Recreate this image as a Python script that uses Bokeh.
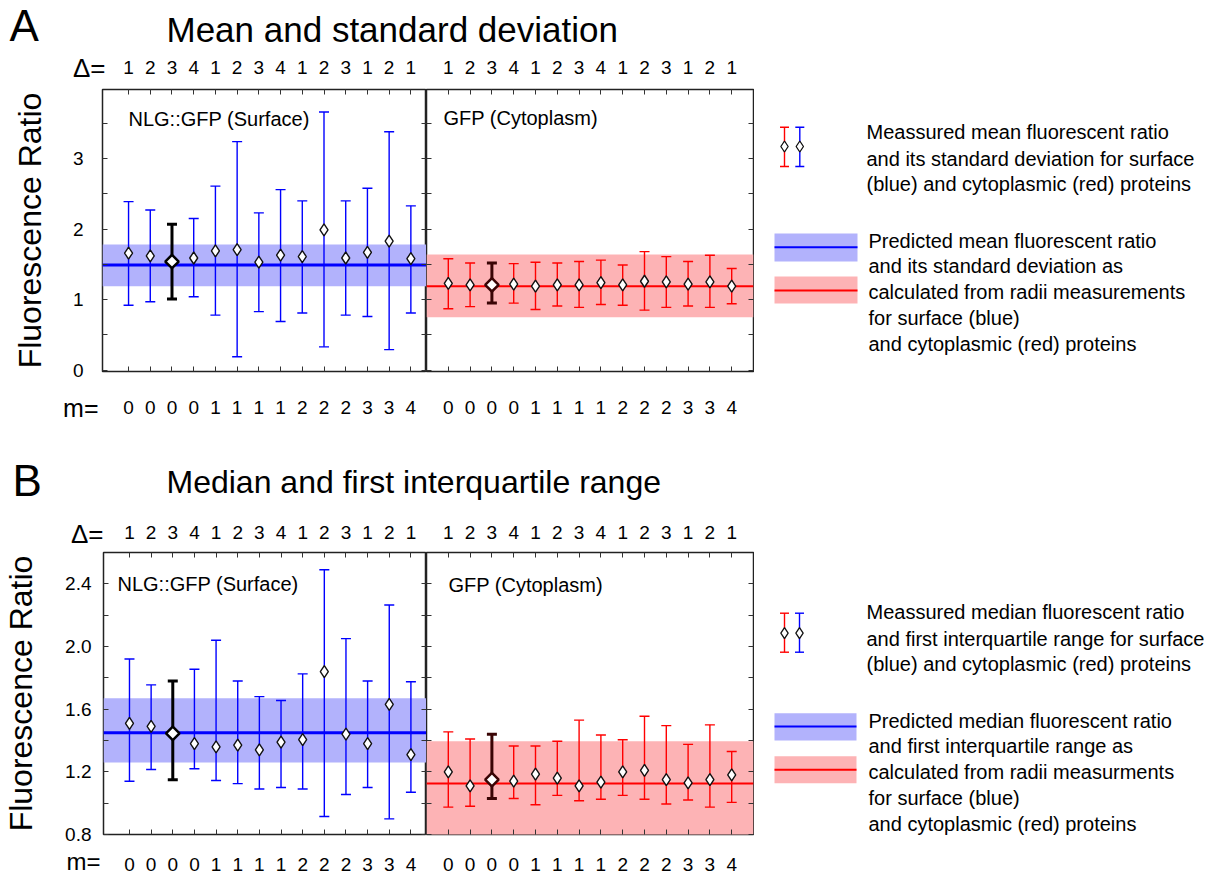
from bokeh.plotting import figure
from bokeh.models import (Range1d, LinearAxis, FixedTicker, PrintfTickFormatter, Whisker, TeeHead,
                          ColumnDataSource, BoxAnnotation, Span, Label, GridBox)
from bokeh.layouts import column, row
from bokeh.embed import file_html
from bokeh.resources import INLINE
from bokeh.core.properties import value
import math

FONT = "Liberation Sans"

# ---------------- data ----------------
positions = [1, 2, 3, 4, 5, 6, 7, 8, 9, 10, 11, 12, 13, 14]
delta_labels = ["1", "2", "3", "4", "1", "2", "3", "4", "1", "2", "3", "1", "2", "1"]
m_labels = ["0", "0", "0", "0", "1", "1", "1", "1", "2", "2", "2", "3", "3", "4"]
highlight_index = 2

# Panel A: mean and standard deviation
a_surface_mean = [1.66, 1.62, 1.54, 1.59, 1.69, 1.71, 1.53, 1.63, 1.61, 1.99, 1.59, 1.67, 1.83, 1.58]
a_surface_upper = [2.39, 2.27, 2.07, 2.15, 2.61, 3.24, 2.23, 2.56, 2.40, 3.66, 2.40, 2.58, 3.38, 2.33]
a_surface_lower = [0.92, 0.97, 1.01, 1.04, 0.78, 0.19, 0.83, 0.69, 0.81, 0.33, 0.78, 0.76, 0.29, 0.81]
a_surface_pred_mean = 1.49
a_surface_pred_low = 1.19
a_surface_pred_high = 1.78

a_cyto_mean = [1.23, 1.21, 1.21, 1.22, 1.19, 1.21, 1.21, 1.24, 1.21, 1.26, 1.25, 1.22, 1.25, 1.19]
a_cyto_upper = [1.58, 1.52, 1.52, 1.51, 1.53, 1.52, 1.54, 1.56, 1.49, 1.68, 1.61, 1.54, 1.63, 1.44]
a_cyto_lower = [0.87, 0.90, 0.95, 0.95, 0.86, 0.91, 0.89, 0.93, 0.92, 0.85, 0.89, 0.91, 0.89, 0.94]
a_cyto_pred_mean = 1.19
a_cyto_pred_low = 0.75
a_cyto_pred_high = 1.64

# Panel B: median and first interquartile range
b_surface_median = [1.51, 1.49, 1.445, 1.38, 1.36, 1.37, 1.34, 1.39, 1.405, 1.84, 1.44, 1.38, 1.63, 1.31]
b_surface_upper = [1.92, 1.755, 1.78, 1.855, 2.04, 1.78, 1.68, 1.655, 1.825, 2.49, 2.05, 1.78, 2.265, 1.775]
b_surface_lower = [1.14, 1.215, 1.15, 1.22, 1.145, 1.125, 1.09, 1.10, 1.09, 0.915, 1.055, 1.10, 0.90, 1.07]
b_surface_pred_mean = 1.45
b_surface_pred_low = 1.26
b_surface_pred_high = 1.67

b_cyto_median = [1.20, 1.11, 1.15, 1.14, 1.185, 1.16, 1.11, 1.135, 1.20, 1.21, 1.15, 1.13, 1.15, 1.18]
b_cyto_upper = [1.455, 1.41, 1.44, 1.365, 1.365, 1.395, 1.53, 1.435, 1.405, 1.555, 1.495, 1.375, 1.50, 1.33]
b_cyto_lower = [0.975, 0.98, 1.03, 1.03, 0.99, 1.05, 1.015, 1.025, 1.05, 1.025, 0.995, 1.02, 0.975, 1.005]
b_cyto_pred_mean = 1.125
b_cyto_pred_low = 0.78
b_cyto_pred_high = 1.395

legend_a_measured = ["Meassured mean fluorescent ratio",
                     "and its standard deviation for surface",
                     "(blue) and cytoplasmic (red) proteins"]
legend_a_predicted = ["Predicted mean fluorescent ratio",
                      "and its standard deviation as",
                      "calculated from radii measurements",
                      "for surface (blue)",
                      "and cytoplasmic (red) proteins"]
legend_b_measured = ["Meassured median fluorescent ratio",
                     "and first interquartile range for surface",
                     "(blue) and cytoplasmic (red) proteins"]
legend_b_predicted = ["Predicted median fluorescent ratio",
                      "and first interquartile range as",
                      "calculated from radii measurments",
                      "for surface (blue)",
                      "and cytoplasmic (red) proteins"]

# ---------------- styles ----------------
BLUE = "#0000ff"
RED = "#ff0000"
BLUE_BAND = "#b2b2fc"
RED_BAND = "#fdb3b5"
BLACK_HL = "#000000"
RED_HL = "#3a0505"

PAGE_W, PAGE_H = 1216, 877
LEFT_W, RIGHT_W = 426, 328
LEFT_BORDER = 102
FRAME_H = 282
X_LEFT = (-0.2, 14.72)
X_RIGHT = (0.0, 15.0)


def no_grid(p):
    p.xgrid.visible = False
    p.ygrid.visible = False


def axis_common(ax):
    ax.axis_line_color = None
    ax.major_tick_in = 5
    ax.major_tick_out = 0
    ax.minor_tick_in = 5
    ax.minor_tick_out = 0
    ax.major_tick_line_color = "#333333"
    ax.minor_tick_line_color = "#333333"
    ax.major_label_text_font = FONT
    ax.major_label_text_font_size = "19px"
    ax.major_label_text_color = "black"


def hide_labels(ax):
    ax.major_label_text_font_size = "0px"
    ax.major_label_text_color = None
    ax.major_label_standoff = 0


def subplot(is_left, height, b_top, b_bottom, yr, yticks, yminor, yfmt,
            mean, upper, lower, pm, plo, phi, color, band_color, hl_color, pred_width,
            name, name_px, top_standoff, bottom_standoff, ytick_standoff=10, ylabel_standoff=20):
    xr = X_LEFT if is_left else X_RIGHT
    width = LEFT_W if is_left else RIGHT_W
    p = figure(width=width, height=height, x_range=Range1d(*xr), y_range=Range1d(*yr),
               title=None, x_axis_location=None, y_axis_location=None, toolbar_location=None,
               output_backend="svg",
               min_border_left=LEFT_BORDER if is_left else 0, min_border_right=0 if is_left else 1,
               min_border_top=b_top, min_border_bottom=b_bottom,
               outline_line_color="#222222", outline_line_width=1.5,
               background_fill_color="white", border_fill_color="white")
    no_grid(p)
    frame_w = (width - LEFT_BORDER) if is_left else (width - 1)

    yt = FixedTicker(ticks=yticks, minor_ticks=yminor)
    left = LinearAxis(ticker=yt, formatter=PrintfTickFormatter(format=yfmt))
    axis_common(left)
    if is_left:
        left.major_label_standoff = ytick_standoff
        left.axis_label = "Fluorescence Ratio"
        left.axis_label_text_font = FONT
        left.axis_label_text_font_size = "32px"
        left.axis_label_text_font_style = "normal"
        left.axis_label_text_color = "black"
        left.axis_label_standoff = ylabel_standoff
    else:
        hide_labels(left)
    p.add_layout(left, "left")
    right = LinearAxis(ticker=yt)
    axis_common(right)
    hide_labels(right)
    p.add_layout(right, "right")

    xt = FixedTicker(ticks=positions, minor_ticks=[])
    top = LinearAxis(ticker=xt, major_label_overrides=dict(zip(positions, delta_labels)))
    axis_common(top)
    top.major_label_standoff = top_standoff
    p.add_layout(top, "above")
    bottom = LinearAxis(ticker=xt, major_label_overrides=dict(zip(positions, m_labels)))
    axis_common(bottom)
    bottom.major_label_standoff = bottom_standoff
    p.add_layout(bottom, "below")

    p.add_layout(BoxAnnotation(bottom=plo, top=phi, fill_color=band_color, fill_alpha=1.0,
                               line_color=None, level="image"))
    p.add_layout(Span(location=pm, dimension="width", line_color=color, line_width=pred_width,
                      level="image"))

    idx = [i for i in range(len(positions)) if i != highlight_index]
    src = ColumnDataSource(dict(x=[positions[i] for i in idx], y=[mean[i] for i in idx],
                                hi=[upper[i] for i in idx], lo=[lower[i] for i in idx]))
    hl = ColumnDataSource(dict(x=[positions[highlight_index]], y=[mean[highlight_index]],
                               hi=[upper[highlight_index]], lo=[lower[highlight_index]]))
    p.add_layout(Whisker(base="x", upper="hi", lower="lo", source=src, line_color=color,
                         line_width=1.4, level="underlay",
                         upper_head=TeeHead(size=10, line_color=color, line_width=1.4),
                         lower_head=TeeHead(size=10, line_color=color, line_width=1.4)))
    p.add_layout(Whisker(base="x", upper="hi", lower="lo", source=hl, line_color=hl_color,
                         line_width=3, level="underlay",
                         upper_head=TeeHead(size=10, line_color=hl_color, line_width=3),
                         lower_head=TeeHead(size=10, line_color=hl_color, line_width=3)))
    p.scatter("x", "y", source=src, marker="diamond", size=12, fill_color="white",
              line_color="#111111", line_width=1.4)
    p.scatter("x", "y", source=hl, marker="square", angle=math.pi / 4, size=9.5,
              fill_color="white", line_color=hl_color, line_width=2.5)

    nx = xr[0] + name_px[0] * (xr[1] - xr[0]) / frame_w
    ny = yr[1] - name_px[1] * (yr[1] - yr[0]) / FRAME_H
    p.add_layout(Label(x=nx, y=ny, text=name, text_font=FONT, text_font_size="20px",
                       text_baseline="middle", text_align="left", text_color="black"))
    return p


# ---------------- subplots ----------------
A_H, A_TOP, A_BOT = 440, 89, 69
B_H, B_TOP, B_BOT = 437, 112, 43

a_left = subplot(True, A_H, A_TOP, A_BOT, (-0.02, 3.98), [0, 1, 2, 3], [0.5, 1.5, 2.5, 3.5], "%d",
                 a_surface_mean, a_surface_upper, a_surface_lower,
                 a_surface_pred_mean, a_surface_pred_low, a_surface_pred_high,
                 BLUE, BLUE_BAND, BLACK_HL, 3, "NLG::GFP (Surface)", (26, 29),
                 top_standoff=16, bottom_standoff=29, ytick_standoff=19, ylabel_standoff=22)
a_right = subplot(False, A_H, A_TOP, A_BOT, (-0.02, 3.98), [0, 1, 2, 3], [0.5, 1.5, 2.5, 3.5], "%d",
                  a_cyto_mean, a_cyto_upper, a_cyto_lower,
                  a_cyto_pred_mean, a_cyto_pred_low, a_cyto_pred_high,
                  RED, RED_BAND, RED_HL, 2, "GFP (Cytoplasm)", (17, 28),
                  top_standoff=16, bottom_standoff=29)
b_left = subplot(True, B_H, B_TOP, B_BOT, (0.8, 2.6), [0.8, 1.2, 1.6, 2.0, 2.4], [1.0, 1.4, 1.8, 2.2],
                 "%.1f", b_surface_median, b_surface_upper, b_surface_lower,
                 b_surface_pred_mean, b_surface_pred_low, b_surface_pred_high,
                 BLUE, BLUE_BAND, BLACK_HL, 3, "NLG::GFP (Surface)", (14, 31.5),
                 top_standoff=14, bottom_standoff=23, ytick_standoff=12, ylabel_standoff=23)
b_right = subplot(False, B_H, B_TOP, B_BOT, (0.8, 2.6), [0.8, 1.2, 1.6, 2.0, 2.4], [1.0, 1.4, 1.8, 2.2],
                  "%.1f", b_cyto_median, b_cyto_upper, b_cyto_lower,
                  b_cyto_pred_mean, b_cyto_pred_low, b_cyto_pred_high,
                  RED, RED_BAND, RED_HL, 2, "GFP (Cytoplasm)", (22, 32.5),
                  top_standoff=14, bottom_standoff=23)

# ---------------- overlay with free texts and legends (page pixel coordinates) ----------------
ov = figure(width=PAGE_W, height=PAGE_H, x_range=Range1d(0, PAGE_W), y_range=Range1d(PAGE_H, 0),
            title=None, x_axis_location=None, y_axis_location=None, toolbar_location=None,
            output_backend="svg", min_border_left=0, min_border_right=0, min_border_top=0,
            min_border_bottom=0, outline_line_color=None, background_fill_color=None,
            border_fill_color=None)
no_grid(ov)


def txt(x, y, s, size, align="left"):
    ov.text(x=[x], y=[y], text=[s], text_font=value(FONT), text_font_size=size,
            text_baseline="middle", text_align=align, text_color="black")


txt(9, 25, "A", "44px")
txt(166, 29, "Mean and standard deviation", "35px")
txt(12, 480, "B", "44px")
txt(166, 481, "Median and first interquartile range", "32px")
txt(105, 67, "Δ=", "26px", align="right")
txt(98, 407, "m=", "25px", align="right")
txt(103, 533, "Δ=", "26px", align="right")
txt(100, 861, "m=", "24px", align="right")


def legend_block(whisk_x, cap_top, cap_bot, diam_y, t1_x, t1_ys, lines1,
                 band_x0, band_x1, blue_band, red_band, t2_x, t2_ys, lines2):
    for xw, col in zip(whisk_x, [RED, BLUE]):
        s = ColumnDataSource(dict(x=[xw], hi=[cap_top], lo=[cap_bot], y=[diam_y]))
        ov.add_layout(Whisker(base="x", upper="hi", lower="lo", source=s, line_color=col,
                              line_width=1.4, level="underlay",
                              upper_head=TeeHead(size=9, line_color=col, line_width=1.4),
                              lower_head=TeeHead(size=9, line_color=col, line_width=1.4)))
        ov.scatter("x", "y", source=s, marker="diamond", size=11, fill_color="white",
                   line_color="#111111", line_width=1.3)
    ov.text(x=[t1_x] * len(lines1), y=t1_ys, text=lines1, text_font=value(FONT),
            text_font_size="20px", text_baseline="middle", text_align="left", text_color="black")
    for (y0, y1, ly), fc, lc in zip([blue_band, red_band], [BLUE_BAND, RED_BAND], [BLUE, RED]):
        ov.quad(left=[band_x0], right=[band_x1], top=[y0], bottom=[y1], fill_color=fc,
                line_color=None)
        ov.segment(x0=[band_x0], x1=[band_x1], y0=[ly], y1=[ly], line_color=lc, line_width=2)
    ov.text(x=[t2_x] * len(lines2), y=t2_ys, text=lines2, text_font=value(FONT),
            text_font_size="20px", text_baseline="middle", text_align="left", text_color="black")


legend_block((784, 799.3), 126.7, 166, 146, 866, [131.7, 158.3, 183.3], legend_a_measured,
             774, 857, (233, 261, 246.7), (276, 303, 290), 868,
             [240, 265, 291.7, 317.3, 343.3], legend_a_predicted)
legend_block((784, 799), 612.7, 651.7, 632.7, 866, [611.7, 638.3, 663.3], legend_b_measured,
             774, 856, (712.7, 740, 726), (755.7, 782.7, 769.3), 868,
             [720, 745, 771.7, 797.3, 823.3], legend_b_predicted)

base = column(row(a_left, a_right, spacing=0), row(b_left, b_right, spacing=0), spacing=0)
layout = GridBox(children=[(base, 0, 0), (ov, 0, 0)])

open("out.html", "w").write(file_html(layout, INLINE))
